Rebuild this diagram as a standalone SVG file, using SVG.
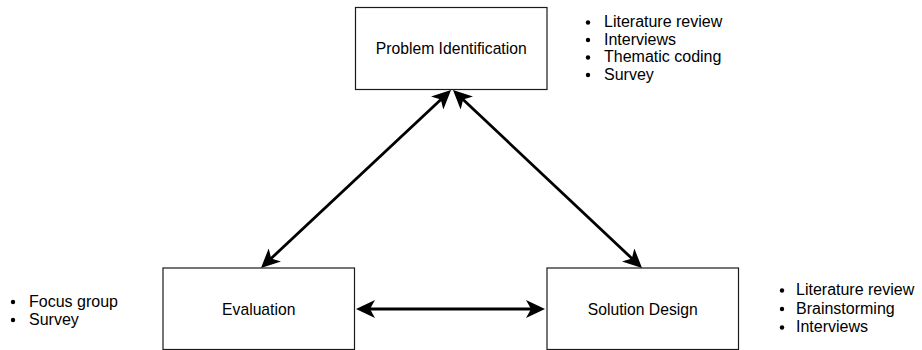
<svg xmlns="http://www.w3.org/2000/svg" width="922" height="350" viewBox="0 0 922 350">
  <style>
    .box { fill: #ffffff; stroke: #1a1a1a; stroke-width: 1.2; }
    .label { font-family: "Liberation Sans", Arial, sans-serif; font-size: 15.7px; fill: #000000; text-anchor: middle; }
    .item { font-family: "Liberation Sans", Arial, sans-serif; font-size: 16px; fill: #000000; }
    .dot { fill: #000000; }
    .link { fill: none; stroke: #000000; stroke-width: 2.8; }
  </style>
  <defs>
    <marker id="arrow" viewBox="0 0 19 18" markerUnits="userSpaceOnUse" markerWidth="19" markerHeight="18" refX="11" refY="9" orient="auto-start-reverse">
      <path d="M19,9 L0,0 L5,9 L0,18 Z" fill="#000000"/>
    </marker>
  </defs>

  <rect width="922" height="350" fill="#ffffff"/>

  <!-- connectors -->
  <g id="connectors">
    <line class="link" x1="445.2" y1="95.5" x2="266.8" y2="262.5" marker-start="url(#arrow)" marker-end="url(#arrow)"/>
    <line class="link" x1="458.8" y1="95.5" x2="636.2" y2="262.5" marker-start="url(#arrow)" marker-end="url(#arrow)"/>
    <line class="link" x1="364" y1="309" x2="537" y2="309" marker-start="url(#arrow)" marker-end="url(#arrow)"/>
  </g>

  <!-- Problem Identification -->
  <g id="problem-identification">
    <rect class="box" x="355.5" y="7.5" width="191.5" height="82"/>
    <text class="label" x="451.25" y="54">Problem Identification</text>
  </g>

  <!-- Evaluation -->
  <g id="evaluation">
    <rect class="box" x="163" y="268" width="191.5" height="81.5"/>
    <text class="label" x="258.75" y="314.5">Evaluation</text>
  </g>

  <!-- Solution Design -->
  <g id="solution-design">
    <rect class="box" x="547" y="268" width="191.5" height="81.5"/>
    <text class="label" x="642.75" y="314.5">Solution Design</text>
  </g>

  <!-- methods: problem identification -->
  <g id="methods-problem">
    <circle class="dot" cx="588" cy="22.5" r="2.2"/>
    <text class="item" x="604" y="27">Literature review</text>
    <circle class="dot" cx="588" cy="40" r="2.2"/>
    <text class="item" x="604" y="44.5">Interviews</text>
    <circle class="dot" cx="588" cy="57.5" r="2.2"/>
    <text class="item" x="604" y="62">Thematic coding</text>
    <circle class="dot" cx="588" cy="75" r="2.2"/>
    <text class="item" x="604" y="79.5">Survey</text>
  </g>

  <!-- methods: evaluation -->
  <g id="methods-evaluation">
    <circle class="dot" cx="13" cy="302" r="2.2"/>
    <text class="item" x="29" y="306.5">Focus group</text>
    <circle class="dot" cx="13" cy="320" r="2.2"/>
    <text class="item" x="29" y="324.5">Survey</text>
  </g>

  <!-- methods: solution design -->
  <g id="methods-solution">
    <circle class="dot" cx="782" cy="290.5" r="2.2"/>
    <text class="item" x="796" y="295">Literature review</text>
    <circle class="dot" cx="782" cy="309" r="2.2"/>
    <text class="item" x="796" y="313.5">Brainstorming</text>
    <circle class="dot" cx="782" cy="327.5" r="2.2"/>
    <text class="item" x="796" y="332">Interviews</text>
  </g>
</svg>
